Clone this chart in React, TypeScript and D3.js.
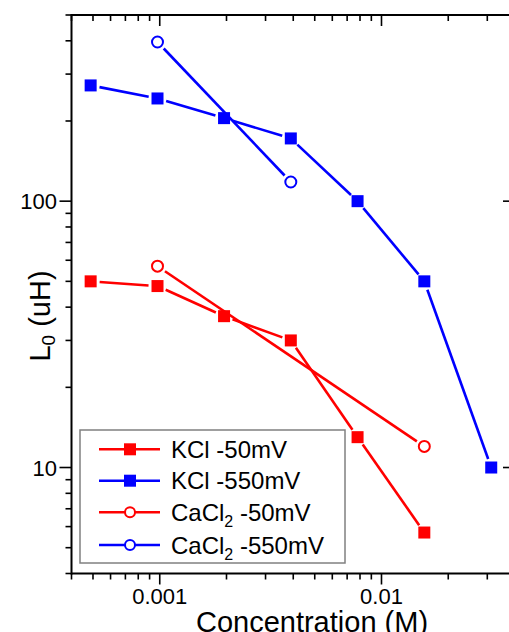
import React from "react";
import * as d3 from "d3";

const concAll = [0.000488, 0.000977, 0.00195, 0.0039, 0.0078, 0.0156, 0.03125];
const kcl50 = [50, 48, 37, 30, 13, 5.7];
const kcl550 = [272, 243, 205, 172, 100, 50, 10];
const cacl50Conc = [0.000977, 0.0156];
const cacl50 = [57, 12];
const cacl550Conc = [0.000977, 0.0039];
const cacl550 = [396, 118];
const xMajorTicks = [0.001, 0.01];
const xTickLabels = ["0.001", "0.01"];
const yMajorTicks = [10, 100];
const yTickLabels = ["10", "100"];

type Series = { name: string; sub?: string; suffix: string; color: string; marker: "square" | "circle"; xs: number[]; ys: number[] };

const series: Series[] = [
  { name: "KCl", suffix: " -50mV", color: "#ff0000", marker: "square", xs: concAll.slice(0, kcl50.length), ys: kcl50 },
  { name: "KCl", suffix: " -550mV", color: "#0000ff", marker: "square", xs: concAll, ys: kcl550 },
  { name: "CaCl", sub: "2", suffix: " -50mV", color: "#ff0000", marker: "circle", xs: cacl50Conc, ys: cacl50 },
  { name: "CaCl", sub: "2", suffix: " -550mV", color: "#0000ff", marker: "circle", xs: cacl550Conc, ys: cacl550 },
];

const W = 509, H = 632;
const left = 71.5, right = 515, top = 15, bottom = 573.5;
const FONT = "'Liberation Sans', Arial, sans-serif";

export default function App() {
  const x = d3.scaleLog().domain([0.0004, 0.04]).range([left, right]);
  const y = d3.scaleLog().domain([4, 500]).range([bottom, top]);

  const xTicks = x.ticks(10);
  const yTicks = y.ticks(10);
  const isMajor = (v: number) => Math.abs(Math.log10(v) - Math.round(Math.log10(v))) < 1e-6;

  const MAJ = 11, MIN = 6;
  const sqSize = 12, cr = 5.5;

  const segs = (s: Series) => {
    const pts = s.xs.map((c, i) => [x(c), y(s.ys[i])] as [number, number]);
    const out: JSX.Element[] = [];
    const gap = s.marker === "square" ? 9 : 9;
    for (let i = 0; i < pts.length - 1; i++) {
      const [x1, y1] = pts[i];
      const [x2, y2] = pts[i + 1];
      const len = Math.hypot(x2 - x1, y2 - y1);
      const ux = (x2 - x1) / len, uy = (y2 - y1) / len;
      out.push(
        <line key={i} x1={x1 + ux * gap} y1={y1 + uy * gap} x2={x2 - ux * gap} y2={y2 - uy * gap}
          stroke={s.color} strokeWidth={2.6} />
      );
    }
    return out;
  };

  const marker = (s: Series, cx: number, cy: number, key: string | number) =>
    s.marker === "square" ? (
      <rect key={key} x={cx - sqSize / 2} y={cy - sqSize / 2} width={sqSize} height={sqSize} fill={s.color} />
    ) : (
      <circle key={key} cx={cx} cy={cy} r={cr} fill="#fff" stroke={s.color} strokeWidth={2} />
    );

  const legX = 80, legY = 430, legW = 265, legH = 133;
  const rowY = [449.3, 480.7, 512.3, 545];

  return (
    <svg width={W} height={H} style={{ position: "absolute", left: 0, top: 0, background: "#fff" }}
      fontFamily={FONT}>
      <rect x={0} y={0} width={W} height={H} fill="#fff" />
      {/* data lines */}
      {series.map((s, si) => <g key={si}>{segs(s)}</g>)}
      {series.map((s, si) => (
        <g key={"m" + si}>{s.xs.map((c, i) => marker(s, x(c), y(s.ys[i]), i))}</g>
      ))}

      {/* axes lines */}
      <g stroke="#000" strokeWidth={2} fill="none">
        <line x1={left} y1={top} x2={right} y2={top} />
        <line x1={left} y1={bottom} x2={right} y2={bottom} />
        <line x1={left} y1={top - 1} x2={left} y2={bottom + 1} />
        <line x1={right} y1={top - 1} x2={right} y2={bottom + 1} />
      </g>
      {/* x ticks */}
      <g stroke="#000" strokeWidth={1.6}>
        {xTicks.map((t, i) => {
          const L = isMajor(t) ? MAJ : MIN;
          const px = x(t);
          return (
            <g key={i}>
              <line x1={px} y1={bottom} x2={px} y2={bottom + L} />
              <line x1={px} y1={top} x2={px} y2={top + L} />
            </g>
          );
        })}
        {yTicks.map((t, i) => {
          const L = isMajor(t) ? MAJ + 1 : MIN;
          const py = y(t);
          return (
            <g key={"y" + i}>
              <line x1={left - L} y1={py} x2={left} y2={py} />
              <line x1={right - L} y1={py} x2={right} y2={py} />
            </g>
          );
        })}
      </g>
      {/* tick labels */}
      <g fontSize={22} fill="#000">
        {xMajorTicks.map((t, i) => (
          <text key={i} x={x(t)} y={604} textAnchor="middle">{xTickLabels[i]}</text>
        ))}
        {yMajorTicks.map((t, i) => (
          <text key={i} x={57} y={y(t) + 8} textAnchor="end">{yTickLabels[i]}</text>
        ))}
      </g>
      {/* axis titles */}
      <text x={312} y={632} fontSize={29} textAnchor="middle" fill="#000">Concentration (M)</text>
      <text transform={`translate(50,316) rotate(-90)`} fontSize={29} textAnchor="middle" fill="#000">
        L<tspan fontSize={19} dy={5}>0</tspan><tspan dy={-5}> (uH)</tspan>
      </text>

      {/* legend */}
      <rect x={legX} y={legY} width={legW} height={legH} fill="#fff" stroke="#808080" strokeWidth={1.5} />
      {series.map((s, i) => (
        <g key={"l" + i}>
          <line x1={99} y1={rowY[i]} x2={160} y2={rowY[i]} stroke={s.color} strokeWidth={2.6} />
          {s.marker === "square" ? (
            <rect x={130 - 6} y={rowY[i] - 6} width={12} height={12} fill={s.color} />
          ) : (
            <circle cx={130} cy={rowY[i]} r={5} fill="#fff" stroke={s.color} strokeWidth={2} />
          )}
          <text x={171} y={rowY[i] + 8.5} fontSize={24} fill="#000">
            {s.name}
            {s.sub ? <tspan fontSize={16} dy={6}>{s.sub}</tspan> : null}
            {s.sub ? <tspan dy={-6}>{s.suffix}</tspan> : <tspan>{s.suffix}</tspan>}
          </text>
        </g>
      ))}
    </svg>
  );
}
